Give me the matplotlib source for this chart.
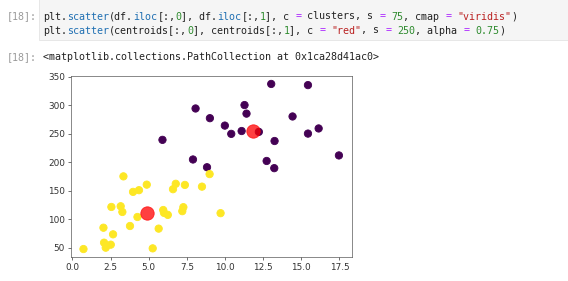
import matplotlib
matplotlib.use("Agg")
import matplotlib.pyplot as plt
from matplotlib.patches import Rectangle
import numpy as np

# ---- data ----
x_vals = [13.03, 15.44, 8.07, 11.28, 11.41, 9.01, 14.43, 9.99, 10.41, 11.09,
          12.22, 13.25, 15.44, 16.14, 5.90, 7.90, 8.82, 12.73, 13.23, 17.47,
          3.34, 8.99, 3.97, 4.36, 4.87, 6.59, 6.77, 7.37, 8.49, 2.55,
          3.16, 3.27, 4.26, 5.95, 6.00, 6.25, 7.27, 7.20, 9.71, 3.77,
          2.03, 2.66, 2.07, 2.51, 2.18, 0.72, 5.65, 5.26]
y_vals = [337.0, 335.0, 294.0, 300.0, 285.0, 277.0, 280.0, 264.0, 249.5, 254.5,
          253.0, 237.0, 250.0, 259.0, 239.0, 204.6, 191.0, 202.0, 189.4, 211.7,
          175.0, 179.0, 147.8, 150.8, 160.5, 152.5, 162.0, 160.0, 157.0, 121.4,
          122.6, 112.6, 103.8, 116.0, 111.0, 107.5, 121.0, 114.0, 110.5, 88.0,
          85.0, 73.4, 58.8, 55.3, 50.0, 47.6, 83.4, 48.8]
clusters = [0] * 20 + [1] * 28
centroid_x = [11.85, 4.87]
centroid_y = [254.5, 110.7]

W, H = 568, 281
DPI = 61
fig = plt.figure(figsize=(W / DPI, H / DPI), dpi=DPI)
fig.patch.set_facecolor("white")

def fx(px):
    return px / W

def fy(py):
    return 1 - py / H

# code cell background
fig.patches.append(Rectangle((fx(39), fy(40)), fx(540), fy(-5) - fy(40),
                             transform=fig.transFigure, facecolor="#f5f5f5",
                             edgecolor="#e0e0e0", linewidth=0.8, zorder=0))

MONO = "DejaVu Sans Mono"
CHAR = 6.0                       # px per character in the reference
FS = CHAR / 0.6021 * 72.0 / DPI  # font size in points

def code_line(tokens, x0, ybase):
    col = 0
    for txt, color in tokens:
        fig.text(fx(x0 + col * CHAR), fy(ybase), txt, color=color,
                 fontsize=FS, family=MONO, va="baseline", ha="left")
        col += len(txt)

K = "#222222"
B = "#1f6fb2"
G = "#2e8b2e"
P = "#aa22ff"
R = "#ba2121"
PR = "#9a9a9a"

code_line([("[18]:", PR)], 6.5, 19.5)
code_line([("plt.", K), ("scatter", B), ("(df.", K), ("iloc", B), ("[:,", K),
           ("0", G), ("], df.", K), ("iloc", B), ("[:,", K), ("1", G),
           ("], c ", K), ("=", P), (" clusters, s ", K), ("=", P), (" ", K),
           ("75", G), (", cmap ", K), ("=", P), (" ", K), ('"viridis"', R),
           (")", K)], 43.3, 19.5)
code_line([("plt.", K), ("scatter", B), ("(centroids[:,", K), ("0", G),
           ("], centroids[:,", K), ("1", G), ("], c ", K), ("=", P), (" ", K),
           ('"red"', R), (", s ", K), ("=", P), (" ", K), ("250", G),
           (", alpha ", K), ("=", P), (" ", K), ("0.75", G), (")", K)], 43.3, 33.5)
code_line([("[18]:", PR)], 6.5, 60.5)
code_line([("<matplotlib.collections.PathCollection at 0x1ca28d41ac0>", K)], 43.3, 60.5)

# axes
left, right, top, bottom = 70.7, 351.7, 75.7, 257.3
ax = fig.add_axes([fx(left), fy(bottom), fx(right - left), fy(top) - fy(bottom)])
ax.scatter(x_vals, y_vals, c=clusters, s=75, cmap="viridis")
ax.scatter(centroid_x, centroid_y, c="red", s=250, alpha=0.75)
ax.set_xticks([0.0, 2.5, 5.0, 7.5, 10.0, 12.5, 15.0, 17.5])
ax.set_yticks([50, 100, 150, 200, 250, 300, 350])
ax.tick_params(labelsize=10.5, colors="#333333")
for s in ax.spines.values():
    s.set_color("#555555")

fig.savefig("out.png", dpi=DPI)
